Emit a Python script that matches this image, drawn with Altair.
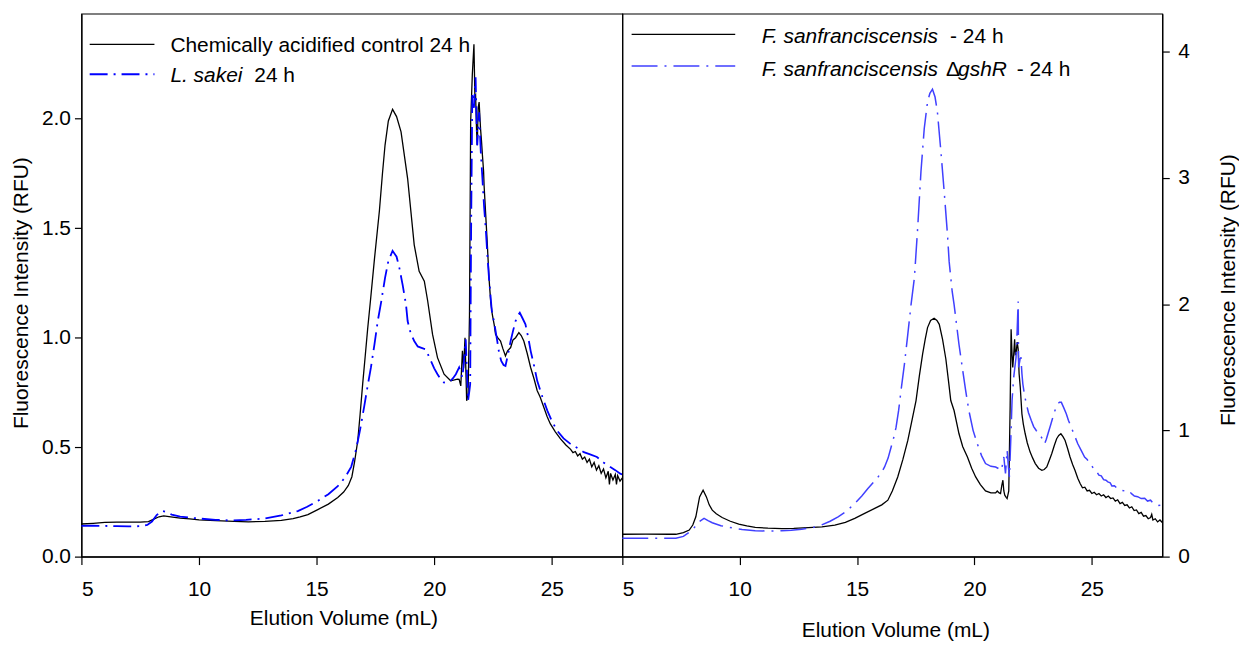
import altair as alt
import pandas as pd

# ---------------- data ----------------
x_ticks = [5, 10, 15, 20, 25]
y_ticks_left = [0.0, 0.5, 1.0, 1.5, 2.0]
y_ticks_right = [0, 1, 2, 3, 4]

# Left panel: chemically acidified control 24 h (black)
ctrl_x = [5.0, 5.5, 6.0, 6.5, 7.0, 7.5, 7.85, 8.1, 8.3, 8.5, 8.8, 9.2, 9.6, 10.0, 10.7, 11.5, 12.1, 12.8,
          13.5, 14.0, 14.3, 14.63, 15.05, 15.5, 15.9, 16.15, 16.35, 16.5, 16.61, 16.75, 16.85, 16.96, 17.07,
          17.17, 17.29, 17.46, 17.67, 17.8, 17.91, 18.05, 18.23, 18.4, 18.59, 18.87, 19.15, 19.36, 19.58,
          19.72, 19.93, 20.14, 20.42, 20.7, 20.99, 21.06, 21.13, 21.2, 21.25, 21.31, 21.38, 21.44, 21.5,
          21.55, 21.62, 21.69, 21.73, 21.76, 21.8, 21.83, 21.87, 21.91, 21.97, 22.01, 22.05, 22.1, 22.12,
          22.16, 22.19, 22.26, 22.33, 22.4, 22.47, 22.55, 22.61, 22.7, 22.82, 22.92, 23.03, 23.12, 23.25,
          23.35, 23.46, 23.6, 23.7, 23.81, 23.95, 24.1, 24.25, 24.38, 24.5, 24.66, 24.8, 24.94, 25.15,
          25.37, 25.6, 25.8, 25.9, 26.0, 26.1, 26.2, 26.3, 26.4, 26.5, 26.6, 26.7, 26.8, 26.9, 27.0, 27.1,
          27.2, 27.3, 27.4, 27.45, 27.5, 27.6, 27.7, 27.75, 27.8, 27.9, 28.0]
ctrl_y = [0.149, 0.152, 0.156, 0.158, 0.158, 0.158, 0.16, 0.172, 0.182, 0.186, 0.182, 0.176, 0.172, 0.168,
          0.164, 0.161, 0.159, 0.161, 0.166, 0.174, 0.182, 0.192, 0.215, 0.24, 0.27, 0.295, 0.325, 0.365,
          0.43, 0.53, 0.65, 0.79, 0.92, 1.04, 1.17, 1.36, 1.58, 1.75, 1.88, 1.99, 2.043, 2.01, 1.94, 1.727,
          1.424, 1.303, 1.258, 1.17, 1.015, 0.909, 0.833, 0.803, 0.811, 0.81, 0.78, 0.94, 0.86, 1.0, 0.712,
          0.742, 1.1, 1.985, 2.2, 2.34, 2.1, 2.106, 1.95, 1.879, 2.05, 2.076, 1.955, 1.9, 1.834, 1.76,
          1.697, 1.62, 1.561, 1.424, 1.273, 1.167, 1.106, 1.06, 1.015, 1.0, 0.985, 0.95, 0.917, 0.94,
          0.955, 0.99, 1.0, 1.023, 1.01, 0.985, 0.93, 0.864, 0.81, 0.758, 0.73, 0.682, 0.64, 0.606, 0.57,
          0.538, 0.51, 0.49, 0.475, 0.48, 0.46, 0.47, 0.445, 0.455, 0.43, 0.445, 0.41, 0.43, 0.395, 0.415,
          0.38, 0.40, 0.36, 0.39, 0.33, 0.38, 0.35, 0.375, 0.33, 0.37, 0.345, 0.36]

# Left panel: L. sakei 24 h (blue, dash-dot)
sakei_x = [5.0, 5.5, 6.0, 6.5, 7.0, 7.5, 7.8, 8.0, 8.2, 8.42, 8.6, 8.84, 9.2, 9.6, 10.0, 10.7, 11.37, 12.0,
           12.8, 13.5, 14.2, 14.6, 15.06, 15.5, 15.9, 16.2, 16.47, 16.68, 16.85, 17.03, 17.17, 17.31, 17.46,
           17.6, 17.74, 17.91, 18.05, 18.23, 18.4, 18.52, 18.66, 18.8, 18.87, 19.0, 19.15, 19.3, 19.43,
           19.55, 19.64, 19.75, 19.86, 20.0, 20.14, 20.28, 20.42, 20.56, 20.7, 20.8, 20.92, 21.06, 21.13,
           21.2, 21.27, 21.34, 21.39, 21.44, 21.5, 21.53, 21.57, 21.62, 21.69, 21.76, 21.8, 21.83, 21.91,
           21.98, 22.05, 22.12, 22.19, 22.26, 22.33, 22.45, 22.54, 22.68, 22.76, 22.85, 22.95, 23.03, 23.15,
           23.25, 23.35, 23.46, 23.55, 23.64, 23.75, 23.88, 24.0, 24.1, 24.25, 24.38, 24.6, 24.81, 25.0,
           25.22, 25.5, 25.79, 26.1, 26.36, 26.6, 26.92, 27.2, 27.49, 27.7, 27.91, 28.0]
sakei_y = [0.14, 0.141, 0.14, 0.139, 0.138, 0.139, 0.145, 0.16, 0.19, 0.209, 0.205, 0.192, 0.183, 0.178,
           0.174, 0.168, 0.165, 0.168, 0.174, 0.188, 0.208, 0.228, 0.255, 0.285, 0.322, 0.36, 0.41, 0.49,
           0.58, 0.69, 0.78, 0.864, 0.97, 1.076, 1.16, 1.273, 1.35, 1.397, 1.37, 1.318, 1.24, 1.152, 1.076,
           1.02, 0.985, 0.96, 0.955, 0.95, 0.947, 0.92, 0.894, 0.86, 0.833, 0.81, 0.795, 0.797, 0.803, 0.815,
           0.833, 0.864, 0.84, 0.818, 0.9, 0.993, 0.85, 0.712, 0.76, 0.788, 1.5, 2.12, 2.05, 2.19, 2.0,
           1.879, 2.03, 1.85, 1.727, 1.6, 1.5, 1.38, 1.273, 1.121, 1.076, 0.985, 0.93, 0.894, 0.875, 0.871,
           0.93, 0.985, 1.03, 1.076, 1.1, 1.114, 1.09, 1.061, 1.0, 0.94, 0.87, 0.803, 0.73, 0.667, 0.62,
           0.576, 0.54, 0.515, 0.495, 0.477, 0.468, 0.455, 0.43, 0.409, 0.395, 0.379, 0.375]

# Right panel: F. sanfranciscensis - 24 h (black)
fs_x = [5.0, 6.0, 7.0, 7.28, 7.6, 7.85, 8.0, 8.13, 8.29, 8.44, 8.58, 8.7, 8.83, 9.0, 9.25, 9.6, 9.96, 10.3,
        10.66, 11.2, 11.79, 12.3, 12.92, 13.5, 14.05, 14.5, 14.9, 15.3, 15.75, 16.05, 16.31, 16.5, 16.73,
        16.95, 17.16, 17.35, 17.51, 17.65, 17.79, 17.9, 18.0, 18.13, 18.28, 18.4, 18.5, 18.64, 18.78, 18.9,
        18.99, 19.13, 19.34, 19.5, 19.7, 19.88, 20.05, 20.25, 20.47, 20.7, 20.9, 20.97, 21.05, 21.11,
        21.16, 21.21, 21.25, 21.29, 21.35, 21.39, 21.46, 21.52, 21.56, 21.6, 21.63, 21.67, 21.71, 21.74,
        21.77, 21.82, 21.86, 21.9, 21.95, 22.02, 22.08, 22.16, 22.25, 22.37, 22.48, 22.59, 22.73, 22.87,
        22.97, 23.08, 23.18, 23.29, 23.4, 23.5, 23.59, 23.68, 23.77, 23.86, 23.96, 24.07, 24.18, 24.28,
        24.4, 24.5, 24.6, 24.7, 24.8, 24.9, 25.0, 25.1, 25.2, 25.3, 25.4, 25.5, 25.6, 25.7, 25.8, 25.9,
        26.0, 26.1, 26.2, 26.3, 26.4, 26.5, 26.6, 26.7, 26.8, 26.9, 27.0, 27.1, 27.2, 27.3, 27.4, 27.5,
        27.55, 27.6, 27.7, 27.8, 27.9, 28.0]
fs_y = [0.177, 0.178, 0.177, 0.177, 0.19, 0.21, 0.25, 0.315, 0.473, 0.526, 0.473, 0.41, 0.368, 0.34, 0.31,
        0.28, 0.258, 0.243, 0.232, 0.225, 0.221, 0.223, 0.229, 0.236, 0.25, 0.272, 0.303, 0.34, 0.382,
        0.41, 0.447, 0.52, 0.631, 0.77, 0.92, 1.09, 1.236, 1.43, 1.604, 1.72, 1.814, 1.87, 1.888, 1.87,
        1.84, 1.72, 1.565, 1.38, 1.236, 1.157, 0.973, 0.87, 0.789, 0.7, 0.631, 0.57, 0.521, 0.505, 0.505,
        0.52, 0.505, 0.5, 0.56, 0.605, 0.52, 0.487, 0.47, 0.46, 0.52, 1.2, 1.801, 1.6, 1.498, 1.6, 1.722,
        1.6, 1.604, 1.7, 1.643, 1.45, 1.341, 1.131, 1.05, 0.973, 0.9, 0.828, 0.78, 0.737, 0.7, 0.684, 0.69,
        0.71, 0.76, 0.815, 0.88, 0.934, 0.96, 0.973, 0.95, 0.92, 0.86, 0.789, 0.73, 0.684, 0.62, 0.579,
        0.545, 0.55, 0.52, 0.525, 0.5, 0.51, 0.49, 0.5, 0.48, 0.49, 0.468, 0.48, 0.46, 0.465, 0.44, 0.45,
        0.42, 0.43, 0.405, 0.41, 0.385, 0.395, 0.365, 0.37, 0.34, 0.35, 0.32, 0.325, 0.3, 0.31, 0.335,
        0.29, 0.3, 0.275, 0.29, 0.27]

# Right panel: F. sanfranciscensis ΔgshR - 24 h (blue, dash-dot)
gshr_x = [5.0, 6.0, 7.0, 7.28, 7.6, 7.98, 8.26, 8.48, 8.65, 8.83, 9.2, 9.54, 10.1, 10.66, 11.2, 11.79, 12.2,
          12.64, 13.1, 13.48, 13.85, 14.19, 14.55, 14.9, 15.2, 15.46, 15.7, 15.89, 16.05, 16.17, 16.32,
          16.45, 16.57, 16.66, 16.77, 16.87, 17.02, 17.16, 17.3, 17.44, 17.58, 17.72, 17.86, 18.0, 18.1,
          18.21, 18.32, 18.42, 18.57, 18.71, 18.85, 18.92, 19.05, 19.13, 19.2, 19.34, 19.48, 19.62, 19.76,
          19.94, 20.12, 20.3, 20.47, 20.7, 20.9, 21.0, 21.15, 21.25, 21.32, 21.39, 21.45, 21.49, 21.55,
          21.6, 21.67, 21.72, 21.77, 21.82, 21.86, 21.88, 21.93, 21.97, 22.02, 22.06, 22.13, 22.21, 22.3,
          22.42, 22.52, 22.63, 22.75, 22.85, 22.92, 22.99, 23.06, 23.13, 23.24, 23.34, 23.45, 23.55, 23.62,
          23.7, 23.8, 23.91, 24.0, 24.12, 24.26, 24.4, 24.55, 24.69, 24.8, 24.9, 25.0, 25.11, 25.2, 25.3,
          25.4, 25.5, 25.6, 25.68, 25.78, 25.85, 25.96, 26.1, 26.24, 26.4, 26.52, 26.65, 26.81, 26.95,
          27.1, 27.25, 27.37, 27.5, 27.58, 27.65, 27.8, 27.94, 28.0]
gshr_y = [0.145, 0.145, 0.145, 0.146, 0.16, 0.21, 0.276, 0.303, 0.285, 0.268, 0.245, 0.232, 0.215, 0.205,
          0.203, 0.205, 0.208, 0.216, 0.23, 0.25, 0.28, 0.315, 0.36, 0.421, 0.48, 0.539, 0.59, 0.631, 0.67,
          0.71, 0.78, 0.868, 0.95, 1.025, 1.16, 1.315, 1.53, 1.762, 2.0, 2.208, 2.603, 3.05, 3.391, 3.602,
          3.67, 3.702, 3.64, 3.523, 3.207, 2.89, 2.55, 2.338, 2.1, 1.998, 1.893, 1.68, 1.498, 1.32, 1.157,
          1.0, 0.894, 0.8, 0.737, 0.715, 0.71, 0.7, 0.684, 0.789, 0.658, 0.842, 0.7, 0.631, 0.95, 1.236,
          1.42, 1.5, 1.577, 1.8, 2.02, 1.498, 1.55, 1.604, 1.45, 1.367, 1.28, 1.21, 1.14, 1.078, 1.03,
          0.999, 0.97, 0.946, 0.92, 0.894, 0.93, 0.973, 1.04, 1.104, 1.17, 1.21, 1.222, 1.222, 1.18, 1.131,
          1.08, 1.025, 0.96, 0.894, 0.84, 0.789, 0.77, 0.735, 0.72, 0.684, 0.675, 0.645, 0.64, 0.61, 0.605,
          0.592, 0.585, 0.56, 0.562, 0.535, 0.526, 0.52, 0.5, 0.505, 0.48, 0.475, 0.46, 0.462, 0.44,
          0.447, 0.43, 0.425, 0.405, 0.408, 0.41]

# ---------------- styling ----------------
FONT = "Liberation Sans"
FS = 21
W, H = 543, 545
LEFT_BLUE = "#0000ff"
RIGHT_BLUE = "#4040ff"


def frame(xs, ys):
    return pd.DataFrame({"x": xs, "y": ys})


one = pd.DataFrame({"k": [0]})


def label(text, x, y, italic=False):
    return alt.Chart(one).mark_text(
        text=text, align="left", baseline="alphabetic", font=FONT, fontSize=FS,
        fontStyle="italic" if italic else "normal", color="black"
    ).encode(x=alt.value(x), y=alt.value(y))


def key(x1, x2, y, color, dash=None, width=1.3):
    kw = dict(color=color, strokeWidth=width)
    if dash:
        kw["strokeDash"] = dash
    return alt.Chart(one).mark_rule(**kw).encode(x=alt.value(x1), x2=alt.value(x2), y=alt.value(y))


def xenc(title_x, title_pad):
    return alt.X("x:Q", scale=alt.Scale(domain=[5, 28], nice=False, zero=False),
                 axis=alt.Axis(values=x_ticks, format="d", tickSize=8, labelPadding=14.3,
                               title="Elution Volume (mL)", titlePadding=title_pad,
                               titleX=title_x, titleAlign="center"))


# ---------------- left panel ----------------
yl = alt.Y("y:Q", scale=alt.Scale(domain=[0, 2.48], nice=False),
           axis=alt.Axis(values=y_ticks_left, format=".1f", orient="left", tickSize=7, labelPadding=4,
                         title="Fluorescence Intensity (RFU)", titleAngle=270, titleX=-60, titleY=280,
                         titleAlign="center", titleBaseline="middle"))
xl = xenc(263, 8)

left = alt.layer(
    alt.Chart(frame(ctrl_x, ctrl_y)).mark_line(color="black", strokeWidth=1.3).encode(x=xl, y=yl),
    alt.Chart(frame(sakei_x, sakei_y)).mark_line(color=LEFT_BLUE, strokeWidth=1.8,
                                                 strokeDash=[18, 6, 2, 6]).encode(x=xl, y=yl),
    key(8.3, 73.3, 30.8, "black"),
    key(8.3, 73.3, 60.8, LEFT_BLUE, [18, 6, 2, 6], 1.8),
    label("Chemically acidified control 24 h", 89.3, 38.5),
    label("L. sakei", 89.3, 68.5, italic=True),
    label("24 h", 173.5, 68.5),
).properties(width=W, height=H)

# ---------------- right panel ----------------
yr = alt.Y("y:Q", scale=alt.Scale(domain=[0, 4.3], nice=False),
           axis=alt.Axis(values=y_ticks_right, format="d", orient="right", tickSize=7, labelPadding=8.5,
                         title="Fluorescence Intensity (RFU)", titleAngle=270, titleX=66, titleY=277,
                         titleAlign="center", titleBaseline="middle"))
xr = xenc(274, 20)

right = alt.layer(
    alt.Chart(frame(fs_x, fs_y)).mark_line(color="black", strokeWidth=1.3).encode(x=xr, y=yr),
    alt.Chart(frame(gshr_x, gshr_y)).mark_line(color=RIGHT_BLUE, strokeWidth=1.5,
                                               strokeDash=[26, 7, 2, 7]).encode(x=xr, y=yr),
    key(9.3, 113.3, 20.8, "black"),
    key(9.3, 113.3, 52.5, RIGHT_BLUE, [26, 7, 2, 7], 1.5),
    label("F. sanfranciscensis", 140, 29.2, italic=True),
    label("- 24 h", 329, 29.2),
    label("F. sanfranciscensis", 140, 62.5, italic=True),
    label("\u0394", 325, 62.5),
    label("gshR", 337, 62.5, italic=True),
    label("- 24 h", 396, 62.5),
).properties(width=W - 1, height=H)

chart = alt.hconcat(left, right, spacing=0, bounds="flush").properties(
    padding={"left": 1.7, "top": 3.5, "right": 0, "bottom": 0}
).configure_view(stroke="black", strokeWidth=1.2).configure_axis(
    grid=False, labelFont=FONT, titleFont=FONT, labelFontSize=FS, titleFontSize=FS,
    titleFontWeight="normal", labelColor="black", titleColor="black", domainColor="black",
    tickColor="black", domainWidth=1.2, tickWidth=1.2
)

chart.save("out.html", embed_options={"renderer": "svg", "actions": False})
